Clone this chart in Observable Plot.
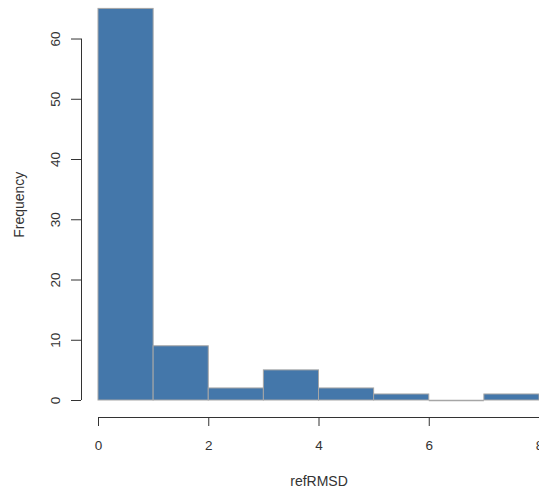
<!DOCTYPE html>
<html>
<head>
<meta charset="utf-8">
<script src="https://cdn.jsdelivr.net/npm/d3@7"></script>
<script src="https://cdn.jsdelivr.net/npm/@observablehq/plot@0.6"></script>
<style>
  html, body { margin: 0; padding: 0; background: #fff; }
  #chart svg { display: block; }
</style>
</head>
<body>
<div id="chart"></div>
<script>
// Histogram of refRMSD
const binStart = [0, 1, 2, 3, 4, 5, 6, 7];
const binEnd   = [1, 2, 3, 4, 5, 6, 7, 8];
const counts   = [65, 9, 2, 5, 2, 1, 0, 1];
const yTicks = [0, 10, 20, 30, 40, 50, 60];
const xTicks = [0, 2, 4, 6, 8];
const xLabel = "refRMSD";
const yLabel = "Frequency";

const bins = binStart.map((s, i) => ({x1: s, x2: binEnd[i], count: counts[i]}));

const fill = "#4477aa";
const edge = "#a6a6a6";
const ink = "#333333";
const fs = 13.5;
const fsLabel = 14;

const chart = Plot.plot({
  width: 539,
  height: 492,
  marginLeft: 98,
  marginRight: 0,
  marginTop: 8.4,
  marginBottom: 92,
  style: {fontFamily: "'Liberation Sans', Arial, Helvetica, sans-serif", fontSize: fs + "px", background: "#fff"},
  x: {domain: [binStart[0], binEnd[binEnd.length - 1]], axis: null},
  y: {domain: [0, 65], axis: null},
  marks: [
    Plot.rectY(bins, {x1: "x1", x2: "x2", y1: 0, y2: "count", fill, stroke: edge, strokeWidth: 1}),
    Plot.ruleY(bins.filter(d => d.count === 0), {x1: "x1", x2: "x2", y: "count", stroke: edge, strokeWidth: 1.5}),
    // y axis
    Plot.ruleX([binStart[0]], {y1: yTicks[0], y2: yTicks[yTicks.length - 1], dx: -17, stroke: ink}),
    Plot.axisY(yTicks, {tickSize: 10, dx: -17, tickFormat: () => "", label: null, stroke: ink}),
    Plot.text(yTicks, {y: d => d, text: d => String(d), frameAnchor: "left", textAnchor: "middle", lineAnchor: "middle", rotate: -90, dx: -43, fill: ink, fontSize: fs}),
    // x axis
    Plot.ruleY([0], {x1: xTicks[0], x2: xTicks[xTicks.length - 1], dy: 17, stroke: ink}),
    Plot.axisX(xTicks, {tickSize: 9, dy: 17, tickFormat: () => "", label: null, stroke: ink}),
    Plot.text(xTicks, {x: d => d, text: d => String(d), frameAnchor: "bottom", textAnchor: "middle", lineAnchor: "middle", dy: 45, fill: ink, fontSize: fs}),
    // labels
    Plot.text([xLabel], {text: d => d, frameAnchor: "bottom", textAnchor: "middle", lineAnchor: "middle", dy: 81, fill: ink, fontSize: fsLabel}),
    Plot.text([yLabel], {text: d => d, frameAnchor: "left", textAnchor: "middle", lineAnchor: "middle", rotate: -90, dx: -79, fill: ink, fontSize: fsLabel})
  ]
});
document.getElementById("chart").append(chart);
</script>
</body>
</html>
